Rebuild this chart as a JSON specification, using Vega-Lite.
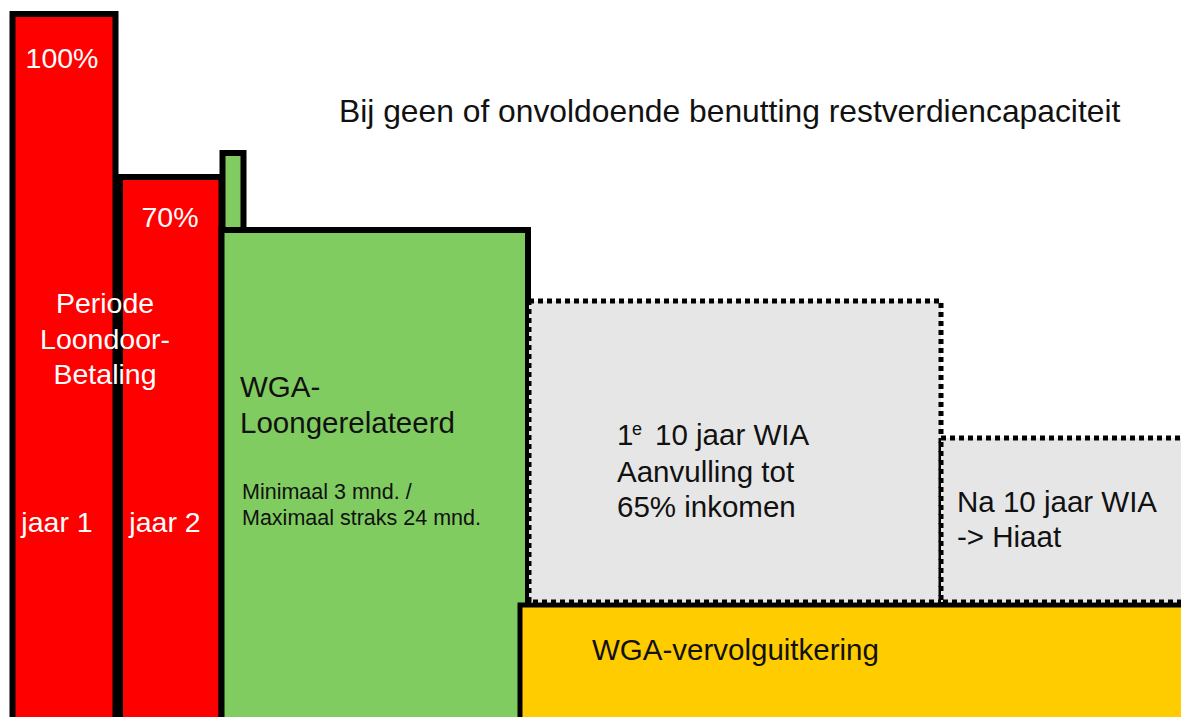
{
  "$schema": "https://vega.github.io/schema/vega-lite/v6.json",
  "width": 1181,
  "height": 717,
  "autosize": {"type": "fit", "contains": "padding"},
  "padding": 0,
  "background": "#ffffff",
  "config": {"view": {"stroke": null}},
  "datasets": {
    "solid": [
      {"box": "Loondoorbetaling jaar 1", "kind": "red", "x1": 12.5, "x2": 115.5, "y1": 14, "y2": 740},
      {"box": "Loondoorbetaling jaar 2", "kind": "red", "x1": 120, "x2": 221.5, "y1": 177, "y2": 740},
      {"box": "WGA piek", "kind": "green", "x1": 222.5, "x2": 243.5, "y1": 153, "y2": 300},
      {"box": "WGA-Loongerelateerd", "kind": "green", "x1": 221.5, "x2": 528, "y1": 230, "y2": 740}
    ],
    "yellow": [
      {"box": "WGA-vervolguitkering", "kind": "yellow", "x1": 520, "x2": 1200, "y1": 605, "y2": 740}
    ],
    "dotted": [
      {"box": "1e 10 jaar WIA", "x1": 529, "x2": 941, "y1": 301, "y2": 602},
      {"box": "Na 10 jaar WIA", "x1": 941, "x2": 1200, "y1": 438, "y2": 602}
    ],
    "whiteText": [
      {"label": "100%", "x": 62, "y": 68},
      {"label": "70%", "x": 170, "y": 227},
      {"label": "Periode", "x": 105, "y": 313},
      {"label": "Loondoor-", "x": 105, "y": 349},
      {"label": "Betaling", "x": 105, "y": 384},
      {"label": "jaar 1", "x": 57, "y": 532},
      {"label": "jaar 2", "x": 165, "y": 532}
    ],
    "blackText": [
      {"label": "WGA-", "x": 240, "y": 397},
      {"label": "Loongerelateerd", "x": 240, "y": 433},
      {"label": "1", "x": 617, "y": 445},
      {"label": "10 jaar WIA", "x": 655, "y": 445},
      {"label": "Aanvulling tot", "x": 617, "y": 482},
      {"label": "65% inkomen", "x": 617, "y": 517},
      {"label": "Na 10 jaar WIA", "x": 957, "y": 512},
      {"label": "-> Hiaat", "x": 957, "y": 547},
      {"label": "WGA-vervolguitkering", "x": 592, "y": 660}
    ],
    "smallText": [
      {"label": "Minimaal 3 mnd. /", "x": 242, "y": 499},
      {"label": "Maximaal straks 24 mnd.", "x": 242, "y": 525}
    ],
    "supText": [
      {"label": "e", "x": 632, "y": 435}
    ],
    "titleText": [
      {"label": "Bij geen of onvoldoende benutting restverdiencapaciteit", "x": 339, "y": 122}
    ]
  },
  "layer": [
    {
      "data": {"name": "solid"},
      "mark": {"type": "rect", "stroke": "#000000", "strokeWidth": 6, "clip": true},
      "encoding": {
        "x": {"field": "x1", "type": "quantitative", "scale": {"domain": [0, 1181], "nice": false, "zero": false}, "axis": null},
        "x2": {"field": "x2"},
        "y": {"field": "y1", "type": "quantitative", "scale": {"domain": [0, 717], "nice": false, "zero": false, "reverse": true}, "axis": null},
        "y2": {"field": "y2"},
        "color": {"field": "kind", "type": "nominal", "scale": {"domain": ["red", "green", "yellow"], "range": ["#ff0000", "#80cc60", "#ffcc00"]}, "legend": null}
      }
    },
    {
      "data": {"name": "yellow"},
      "mark": {"type": "rect", "stroke": "#000000", "strokeWidth": 5, "clip": true},
      "encoding": {
        "x": {"field": "x1", "type": "quantitative", "axis": null},
        "x2": {"field": "x2"},
        "y": {"field": "y1", "type": "quantitative", "axis": null},
        "y2": {"field": "y2"},
        "color": {"field": "kind", "type": "nominal", "legend": null}
      }
    },
    {
      "data": {"name": "dotted"},
      "mark": {"type": "rect", "fill": "#e6e6e6", "stroke": "#000000", "strokeWidth": 5, "strokeDash": [5, 4], "clip": true},
      "encoding": {
        "x": {"field": "x1", "type": "quantitative", "axis": null},
        "x2": {"field": "x2"},
        "y": {"field": "y1", "type": "quantitative", "axis": null},
        "y2": {"field": "y2"}
      }
    },
    {
      "data": {"name": "whiteText"},
      "mark": {"type": "text", "font": "Liberation Sans", "fontSize": 28.5, "fill": "#ffffff", "align": "center", "baseline": "alphabetic"},
      "encoding": {
        "x": {"field": "x", "type": "quantitative", "axis": null},
        "y": {"field": "y", "type": "quantitative", "axis": null},
        "text": {"field": "label"}
      }
    },
    {
      "data": {"name": "blackText"},
      "mark": {"type": "text", "font": "Liberation Sans", "fontSize": 29.5, "fill": "#111111", "align": "left", "baseline": "alphabetic"},
      "encoding": {
        "x": {"field": "x", "type": "quantitative", "axis": null},
        "y": {"field": "y", "type": "quantitative", "axis": null},
        "text": {"field": "label"}
      }
    },
    {
      "data": {"name": "smallText"},
      "mark": {"type": "text", "font": "Liberation Sans", "fontSize": 21.5, "fill": "#111111", "align": "left", "baseline": "alphabetic"},
      "encoding": {
        "x": {"field": "x", "type": "quantitative", "axis": null},
        "y": {"field": "y", "type": "quantitative", "axis": null},
        "text": {"field": "label"}
      }
    },
    {
      "data": {"name": "supText"},
      "mark": {"type": "text", "font": "Liberation Sans", "fontSize": 18, "fill": "#111111", "align": "left", "baseline": "alphabetic"},
      "encoding": {
        "x": {"field": "x", "type": "quantitative", "axis": null},
        "y": {"field": "y", "type": "quantitative", "axis": null},
        "text": {"field": "label"}
      }
    },
    {
      "data": {"name": "titleText"},
      "mark": {"type": "text", "font": "Liberation Sans", "fontSize": 31.8, "fill": "#111111", "align": "left", "baseline": "alphabetic"},
      "encoding": {
        "x": {"field": "x", "type": "quantitative", "axis": null},
        "y": {"field": "y", "type": "quantitative", "axis": null},
        "text": {"field": "label"}
      }
    }
  ]
}
